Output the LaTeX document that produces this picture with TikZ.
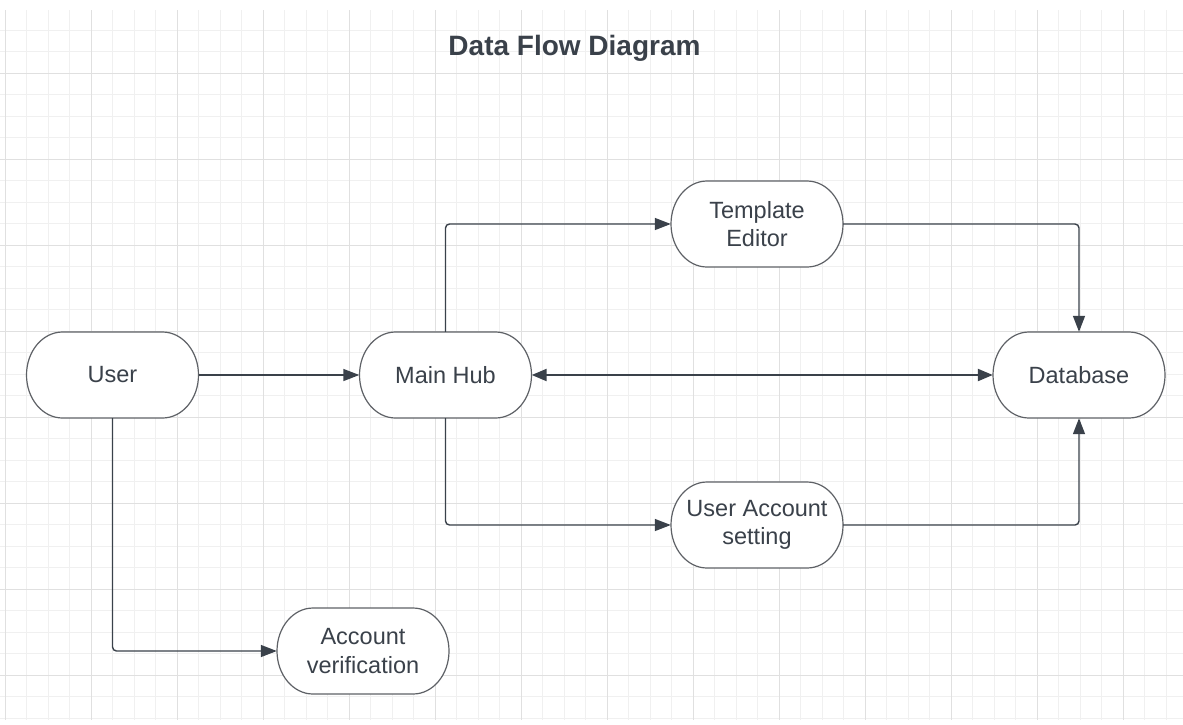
\documentclass[tikz,border=0pt]{standalone}
\usepackage{fontspec}
\setmainfont{Liberation Sans}
\usetikzlibrary{arrows.meta}
\definecolor{ink}{HTML}{3A414A}
\definecolor{edgegrey}{HTML}{5E6166}
\definecolor{gridminor}{HTML}{F0F0F0}
\definecolor{gridmajor}{HTML}{E0E0E0}
% pill shape with elliptical ends, then the named node on top
\newcommand\pillnode[4]{%
  \filldraw[pillline] (#2-50,#3-43) -- (#2+50,#3-43)
    arc[start angle=90, end angle=-90, x radius=36pt, y radius=43pt]
    -- (#2-50,#3+43)
    arc[start angle=270, end angle=90, x radius=36pt, y radius=43pt] -- cycle;
  \node[proc] (#1) at (#2,#3) {#4};}
\begin{document}
\begin{tikzpicture}[x=1pt,y=-1pt,
  pillline/.style={draw=edgegrey, line width=1.2pt, fill=white},
  proc/.style={minimum width=172pt, minimum height=86pt, inner sep=0pt, align=center,
    text=ink, font=\fontsize{23.5}{28.5}\selectfont},
  flow/.style={draw=ink, line width=1.4pt, rounded corners=4pt,
    -{Triangle[length=16pt,width=12pt]}},
  bothflow/.style={draw=ink, line width=2.2pt,
    {Triangle[length=15pt,width=12pt]}-{Triangle[length=15pt,width=12pt]}}
  ]
\useasboundingbox (0,0) rectangle (1183,724);
\fill[white] (0,0) rectangle (1183,724);
% grid
\begin{scope}
  \clip (0,10) rectangle (1183,719);
  \foreach \k in {0,...,55} \draw[gridminor, line width=1pt] ({5.3+21.5*\k},0) -- ++(0,724);
  \foreach \k in {-3,...,30} \draw[gridminor, line width=1pt] (0,{73+21.5*\k}) -- ++(1183,0);
  \foreach \k in {0,...,13} \draw[gridmajor, line width=1pt] ({5.3+86*\k},0) -- ++(0,724);
  \foreach \k in {0,...,7} \draw[gridmajor, line width=1pt] (0,{73+86*\k}) -- ++(1183,0);
\end{scope}
% title
\node[font=\bfseries\fontsize{28}{34}\selectfont, text=ink, anchor=base] (title) at (574.5,55) {Data Flow Diagram};
% nodes
\pillnode{user}{112.5}{375}{User}
\pillnode{hub}{445.5}{375}{Main Hub}
\pillnode{db}{1079}{375}{Database}
\pillnode{tpl}{757}{224}{Template\\Editor}
\pillnode{uas}{757}{525}{User Account\\setting}
\pillnode{acc}{363}{651}{Account\\verification}
% connectors
\draw[flow] (user.east) -- (hub.west);
\draw[flow] (hub.north) |- (tpl.west);
\draw[flow] (tpl.east) -| (db.north);
\draw[flow] (hub.south) |- (uas.west);
\draw[flow] (uas.east) -| (db.south);
\draw[bothflow] (hub.east) -- (db.west);
\draw[flow] (user.south) |- (acc.west);
\end{tikzpicture}
\end{document}
